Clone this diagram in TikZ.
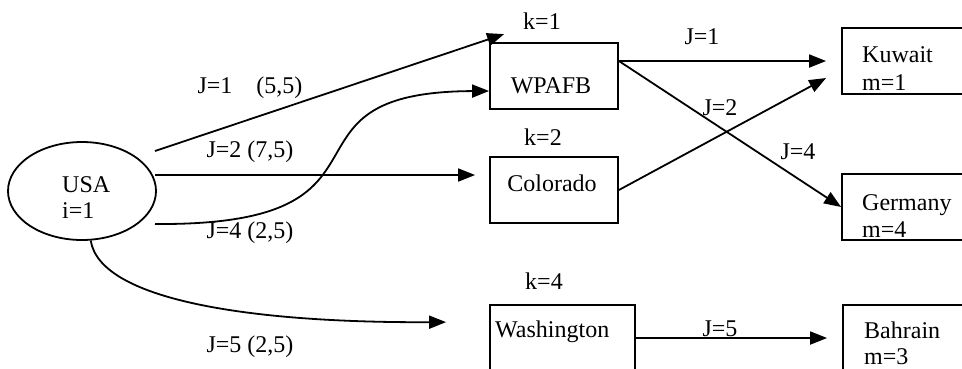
\documentclass[tikz,border=0pt]{standalone}
\usepackage{fontspec}
\setmainfont{Liberation Serif}
\usetikzlibrary{arrows.meta,shapes.geometric,positioning}
\tikzset{
  box/.style={draw,line width=1.8pt,inner sep=0pt,minimum height=66pt},
  txt/.style={inner sep=0pt,font=\fontsize{24}{28}\selectfont,align=left},
  lbl/.style={inner sep=0pt,font=\fontsize{24}{28}\selectfont},
  link/.style={line width=1.8pt,-{Triangle[length=17pt,width=13pt]}},
}
\begin{document}
\begin{tikzpicture}[x=1pt,y=-1pt]
\useasboundingbox (0,0) rectangle (962,368);
\clip (0,0) rectangle (962,368);
% source
\node[draw,ellipse,line width=1.8pt,minimum width=148pt,minimum height=98pt] (usa) at (82,191) {};
\node[txt,font=\fontsize{24}{26}\selectfont,anchor=north west] (usatxt) at (62,176) {USA\\i=1};
% depots
\node[box,minimum width=128pt] (wpafb) at (554,76) {};
\node[box,minimum width=128pt] (colorado) at (554,190) {};
\node[box,minimum width=145pt] (washington) at (562.5,338) {};
\node[lbl,anchor=base] (wpafbtxt) at (551,93) {WPAFB};
\node[lbl,anchor=base] (coloradotxt) at (552,191) {Colorado};
\node[lbl,anchor=base west] (washingtontxt) at (495,337) {Washington};
\node[lbl] (k1) at (542,21) {k=1};
\node[lbl] (k2) at (543,137) {k=2};
\node[lbl] (k4) at (544,281) {k=4};
% destinations
\node[box,minimum width=170pt] (kuwait) at (927,61) {};
\node[box,minimum width=170pt] (germany) at (927,207) {};
\node[box,minimum width=170pt] (bahrain) at (928,338) {};
\node[txt,anchor=north west] (kuwaittxt) at (862,46) {Kuwait\\m=1};
\node[txt,font=\fontsize{24}{27}\selectfont,anchor=north west] (germanytxt) at (862,194) {Germany\\m=4};
\node[txt,font=\fontsize{24}{26}\selectfont,anchor=north west] (bahraintxt) at (864,322) {Bahrain\\m=3};
% flows out of USA
\coordinate (u1) at (155,151);
\coordinate (u2) at (155,175);
\coordinate (u4) at (155,224);
\draw[link] (u1) -- ([shift={(15,-8)}]wpafb.north west);
\draw[link] (u2) -- ([shift={(-14,-15)}]colorado.west);
\draw[link] (u4) .. controls (420,226) and (260,92) .. ([shift={(0,15)}]wpafb.west);
\draw[link] (usa.-80) .. controls (100,300) and (250,323) .. ([shift={(-43,18)}]washington.north west);
\node[lbl] (l1) at (250,88) {J=1\quad(5,5)};
\node[lbl] (l2) at (250,152) {J=2 (7,5)};
\node[lbl] (l4) at (250,233) {J=4 (2,5)};
\node[lbl] (l5) at (250,347) {J=5 (2,5)};
% flows to destinations
\draw[link] ([shift={(0,-15)}]wpafb.east) -- ([shift={(-15,0)}]kuwait.west);
\draw[link] ([shift={(0,-15)}]wpafb.east) -- (germany.west);
\draw[link] (colorado.east) -- ([shift={(-15,17)}]kuwait.west);
\draw[link] (washington.east) -- ([shift={(-15,0)}]bahrain.west);
\node[lbl] (r1) at (702,37) {J=1};
\node[lbl] (r2) at (720,108) {J=2};
\node[lbl] (r4) at (798,152) {J=4};
\node[lbl] (r5) at (720,329) {J=5};
\end{tikzpicture}
\end{document}
